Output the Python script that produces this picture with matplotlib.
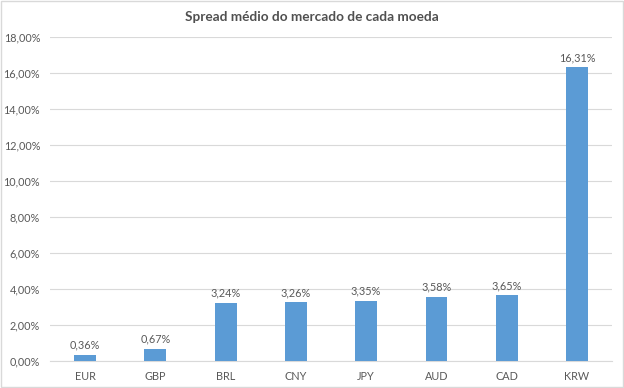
import matplotlib
matplotlib.use("Agg")
import matplotlib.pyplot as plt
from matplotlib.ticker import FuncFormatter, MultipleLocator

categories = ["EUR", "GBP", "BRL", "CNY", "JPY", "AUD", "CAD", "KRW"]
values = [0.36, 0.67, 3.24, 3.26, 3.35, 3.58, 3.65, 16.31]
title = "Spread médio do mercado de cada moeda"

plt.rcParams['font.family'] = ['Lato', 'DejaVu Sans']
txt = "#595959"

fig = plt.figure(figsize=(6.24, 3.88), dpi=100)
ax = fig.add_axes([0.080, 0.0696, 0.901, 0.835])
x = range(len(categories))
bars = ax.bar(x, values, width=0.31, color="#5B9BD5", zorder=3)
ax.set_xlim(-0.5, len(categories) - 0.5)
ax.set_ylim(0, 18)
ax.yaxis.set_major_locator(MultipleLocator(2))
ax.yaxis.set_major_formatter(FuncFormatter(lambda v, p: f"{v:.2f}%".replace(".", ",")))
ax.set_xticks(list(x))
ax.set_xticklabels(categories)
ax.grid(axis="y", color="#D9D9D9", linewidth=0.8, zorder=0)
for s in ["top", "right", "left"]:
    ax.spines[s].set_visible(False)
ax.spines["bottom"].set_color("#D9D9D9")
ax.tick_params(axis="both", length=0, colors=txt, labelsize=7.8)
ax.tick_params(axis="x", pad=7)
ax.tick_params(axis="y", pad=7)
for b, v in zip(bars, values):
    ax.annotate(f"{v:.2f}%".replace(".", ","), (b.get_x() + b.get_width() / 2, v),
                xytext=(0, 3), textcoords="offset points", ha="center", va="bottom",
                fontsize=7.8, color=txt)
fig.text(0.5, 0.955, title, ha="center", va="center", fontsize=9.8,
         fontweight="bold", color="#505050")
border = plt.Rectangle((0.002, 0.003), 0.996, 0.994, transform=fig.transFigure,
                       fill=False, edgecolor="#D9D9D9", linewidth=1)
fig.patches.append(border)
fig.savefig("out.png", dpi=100)
